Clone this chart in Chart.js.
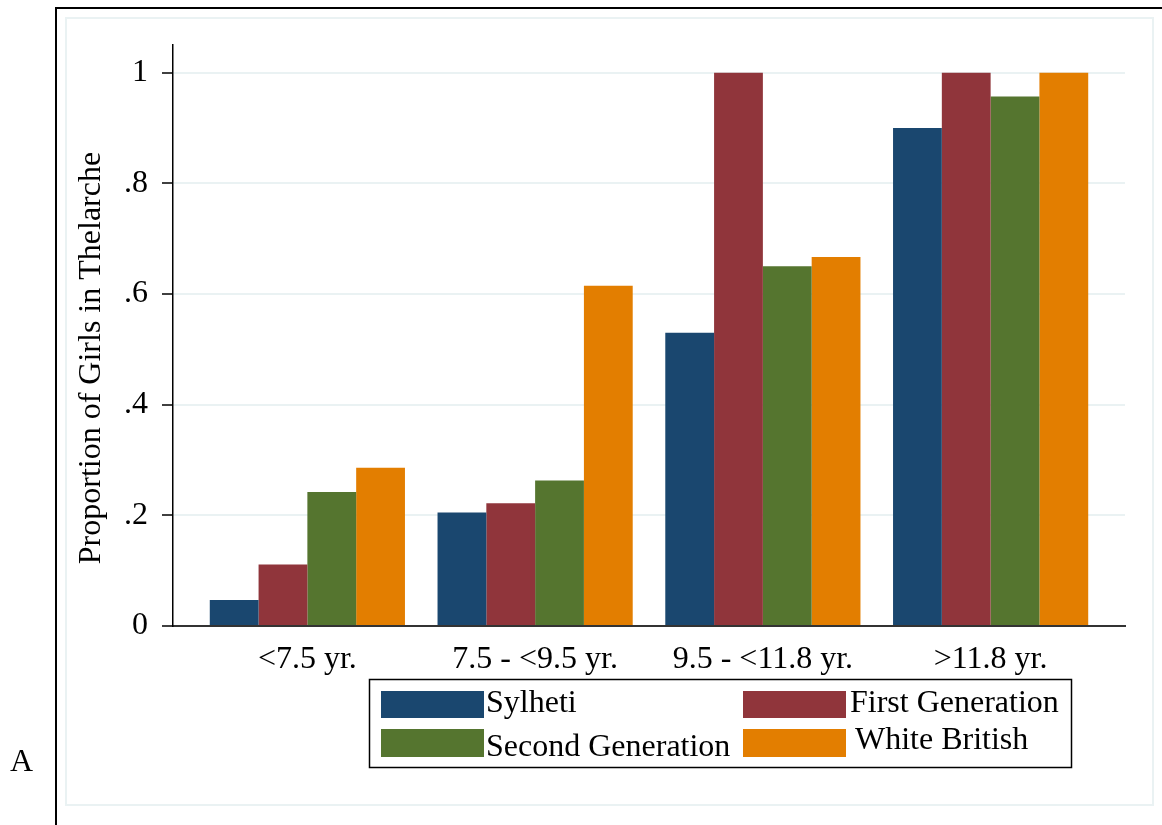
<!DOCTYPE html>
<html>
<head>
<meta charset="utf-8">
<script src="https://cdn.jsdelivr.net/npm/chart.js@4"></script>
<style>
  html, body { margin: 0; padding: 0; background: #fff; }
  canvas { display: block; }
</style>
</head>
<body>
<canvas id="myChart" width="1162" height="825"></canvas>
<script>
// data
const categories = ["<7.5 yr.", "7.5 - <9.5 yr.", "9.5 - <11.8 yr.", ">11.8 yr."]
const sylheti = [0.047, 0.205, 0.53, 0.9]
const firstGen = [0.111, 0.222, 1, 1]
const secondGen = [0.242, 0.263, 0.65, 0.957]
const whiteBritish = [0.286, 0.615, 0.667, 1]
const yTicks = [0, 0.2, 0.4, 0.6, 0.8, 1]
const yTitle = "Proportion of Girls in Thelarche"

const serif = "'Liberation Serif', 'DejaVu Serif', serif"
const fontSize = 32
const toPoints = (arr) => arr.map((v, i) => ({ x: i, y: v }))

// frame, "A" label, y title and the boxed legend (Stata style)
const stataFrame = {
  id: "stataFrame",
  beforeDraw(chart) {
    const c = chart.ctx
    c.save()
    c.fillStyle = "#fff"
    c.fillRect(0, 0, chart.width, chart.height)
    c.strokeStyle = "#eaf2f3"
    c.lineWidth = 2
    c.strokeRect(66, 18, 1087, 787)
    c.strokeStyle = "#000"
    c.lineWidth = 2
    c.beginPath()
    c.moveTo(56, 825)
    c.lineTo(56, 8)
    c.lineTo(1162, 8)
    c.stroke()
    c.fillStyle = "#000"
    c.font = fontSize + "px " + serif
    c.textBaseline = "middle"
    c.textAlign = "left"
    c.fillText("A", 10, 763)
    // y axis title, centred a bit below the plot middle like the original
    c.translate(92, 358)
    c.rotate(-Math.PI / 2)
    c.textAlign = "center"
    c.fillText(yTitle, 0, 0)
    c.restore()
  },
  afterDraw(chart) {
    const c = chart.ctx
    const ds = chart.data.datasets
    c.save()
    c.strokeStyle = "#000"
    c.lineWidth = 1.5
    c.strokeRect(369.5, 679.5, 702, 88)
    const spots = [
      { x: 381, y: 691, h: 27, tx: 486, ty: 704 },
      { x: 743, y: 691, h: 27, tx: 850, ty: 704 },
      { x: 381, y: 729, h: 28, tx: 486, ty: 748 },
      { x: 743, y: 729, h: 28, tx: 855, ty: 741 },
    ]
    c.font = fontSize + "px " + serif
    c.textBaseline = "middle"
    c.textAlign = "left"
    ds.forEach((d, i) => {
      const s = spots[i]
      c.fillStyle = d.backgroundColor
      c.fillRect(s.x, s.y, 103, s.h)
      c.fillStyle = "#000"
      c.fillText(d.label, s.tx, s.ty)
    })
    c.restore()
  },
}

const ctx = document.getElementById("myChart").getContext("2d")
const myChart = new Chart(ctx, {
  type: "bar",
  data: {
    datasets: [
      { label: "Sylheti", data: toPoints(sylheti), backgroundColor: "#1a476f" },
      { label: "First Generation", data: toPoints(firstGen), backgroundColor: "#90353b" },
      { label: "Second Generation", data: toPoints(secondGen), backgroundColor: "#55752f" },
      { label: "White British", data: toPoints(whiteBritish), backgroundColor: "#e37e00" },
    ],
  },
  options: {
    responsive: false,
    animation: false,
    devicePixelRatio: 1,
    layout: { padding: { left: 0, top: 45, right: 37, bottom: 149 } },
    datasets: {
      bar: { categoryPercentage: 0.857, barPercentage: 1, borderWidth: 0 },
    },
    plugins: { legend: { display: false }, tooltip: { enabled: false } },
    scales: {
      x: {
        type: "linear",
        offset: false,
        min: -0.59,
        max: 3.59,
        afterFit(scale) { scale.height = 50 },
        afterBuildTicks(scale) { scale.ticks = categories.map((_, i) => ({ value: i })) },
        grid: { display: false, drawTicks: false },
        border: { display: true, color: "#333", width: 2 },
        ticks: {
          padding: 14,
          color: "#000",
          font: { family: serif, size: fontSize },
          callback: (v) => categories[v],
        },
      },
      y: {
        min: 0,
        max: 1.05,
        afterFit(scale) { scale.width = 173 },
        afterBuildTicks(scale) { scale.ticks = yTicks.map((v) => ({ value: v })) },
        grid: { color: "#eaf2f3", lineWidth: 2, tickColor: "#000", tickWidth: 1.5, tickLength: 11 },
        border: { display: true, color: "#000", width: 1.5 },
        ticks: {
          padding: 14,
          color: "#000",
          font: { family: serif, size: fontSize },
          callback: (v) => (v === 0 ? "0" : v === 1 ? "1" : v.toFixed(1).replace("0.", ".")),
        },
      },
    },
  },
  plugins: [stataFrame],
})
</script>
</body>
</html>
